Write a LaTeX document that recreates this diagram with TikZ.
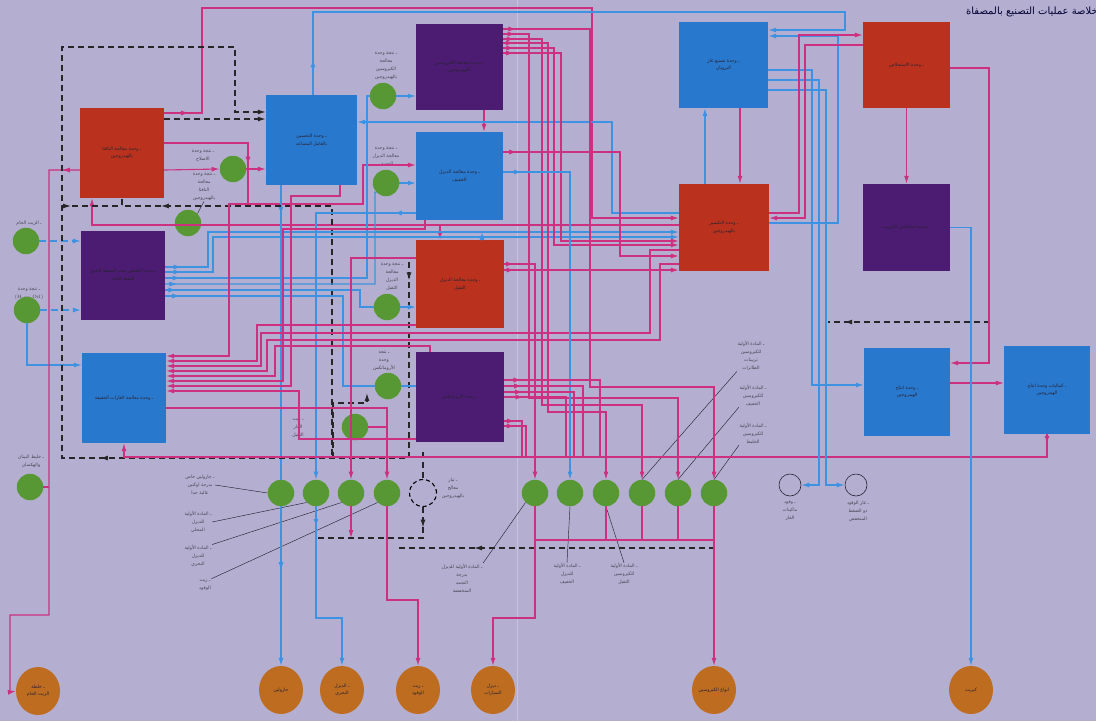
\documentclass[tikz,border=0pt]{standalone}
\usepackage{fontspec}
\usetikzlibrary{arrows.meta,shapes.geometric,decorations.markings}
\newfontfamily\arfont[Script=Arabic]{DejaVu Sans}
\TeXXeTstate=1
\newcommand\AR[1]{{\arfont\beginR #1\endR}}
\definecolor{bgc}{RGB}{180,175,208}
\definecolor{redc}{RGB}{186,50,30}
\definecolor{bluec}{RGB}{40,120,205}
\definecolor{purc}{RGB}{76,28,114}
\definecolor{grnc}{RGB}{88,152,52}
\definecolor{orc}{RGB}{190,108,32}
\definecolor{magc}{RGB}{206,48,128}
\definecolor{linb}{RGB}{62,146,226}
\definecolor{txtc}{RGB}{40,35,50}
\tikzset{
 box/.style={minimum width=87pt,minimum height=88pt,inner sep=1pt,align=center,font=\fontsize{4.6}{7.5}\selectfont,text=txtc},
 rbox/.style={box,fill=redc},
 bbox/.style={box,fill=bluec},
 pbox/.style={box,fill=purc},
 gc/.style={circle,fill=grnc,minimum size=26.5pt,inner sep=0pt},
 wc/.style={circle,draw=txtc,line width=0.6pt,minimum size=22pt,inner sep=0pt},
 dcirc/.style={circle,draw=black,line width=1.1pt,dash pattern=on 4pt off 3pt,minimum size=27pt,inner sep=0pt},
 oel/.style={ellipse,fill=orc,minimum width=44pt,minimum height=48pt,inner sep=0pt,align=center,font=\fontsize{4.6}{7}\selectfont,text=txtc},
 lab/.style={align=center,font=\fontsize{4.6}{8}\selectfont,text=txtc!85,inner sep=0.5pt},
 mg/.style={draw=magc,line width=1.1pt},
 bl/.style={draw=linb,line width=1.1pt},
 bld/.style={bl,dash pattern=on 7pt off 4pt},
 dsh/.style={draw=black!85,line width=1.2pt,dash pattern=on 6pt off 4pt},
 lead/.style={draw=txtc,line width=0.45pt},
 tip/.style={-{Latex[length=8pt,width=5pt]}},
 ma/.style={postaction={decorate,decoration={markings,mark=at position #1 with {\arrow{Latex[length=8pt,width=5pt]}}}}},
}
\begin{document}
\begin{tikzpicture}[x=1pt,y=-1pt]
\fill[bgc] (0,0) rectangle (1096,721);
\useasboundingbox (0,0) rectangle (1096,721);
\draw[white!25!bgc,line width=0.7pt] (517,0) -- (517,721);

% ---------- boxes
\node[rbox,minimum width=84pt,minimum height=90pt] (NHT) at (122,153) {\AR{ـ وحدة معالجة النافثا}\\\AR{بالهيدروجين}};
\node[bbox,minimum width=91pt,minimum height=90pt] (PLAT) at (311.5,140) {\AR{ـ وحدة التحسين}\\\AR{بالعامل المساعد}};
\node[pbox,minimum height=86pt] (KHT) at (459.5,67) {\AR{ـ وحدة معالجة الكيروسين}\\\AR{بالهيدروجين}};
\node[bbox] (LDHT) at (459.5,176) {\AR{ـ وحدة معالجة الديزل}\\\AR{الخفيف}};
\node[rbox,minimum width=88pt] (HDHT) at (460,284) {\AR{ـ وحدة معالجة الديزل}\\\AR{الثقيل}};
\node[pbox,minimum width=88pt,minimum height=90pt] (ARO) at (460,397) {\AR{ـ وحدة الأروماتكس}};
\node[pbox,minimum width=84pt,minimum height=89pt] (CDU) at (123,275.5) {\AR{ـ وحدة التقطير تحت الضغط الجوي}\\\AR{للنفط الخام}};
\node[bbox,minimum width=84pt,minimum height=90pt] (GAS) at (124,398) {\AR{ـ وحدة معالجة الغازات الخفيفة}};
\node[bbox,minimum width=89pt,minimum height=86pt] (LPG) at (723.5,65) {\AR{ـ وحدة تصنيع غاز}\\\AR{البروبان}};
\node[rbox,minimum width=90pt,minimum height=87pt] (HC) at (724,227.5) {\AR{ـ وحدة التكسير}\\\AR{بالهيدروجين}};
\node[rbox,minimum height=86pt] (EXT) at (906.5,65) {\AR{ـ وحدة الاستخلاص}};
\node[pbox,minimum height=87pt] (SUL) at (906.5,227.5) {\AR{ـ وحدة استخلاص الكبريت}};
\node[bbox,minimum width=86pt] (H2) at (907,392) {\AR{ـ وحدة انتاج}\\\AR{الهيدروجين}};
\node[bbox,minimum width=86pt] (H2X) at (1047,390) {\AR{ـ كماليات وحدة انتاج}\\\AR{الهيدروجين}};

% ---------- green circles
\node[gc] (g1) at (233,169) {};
\node[gc] (g2) at (188,223) {};
\node[gc] (g3) at (383,96) {};
\node[gc] (g4) at (386,183) {};
\node[gc] (g5) at (387,307) {};
\node[gc] (g6) at (388,386) {};
\node[gc] (g7) at (355,427) {};
\node[gc] (g8) at (26,241) {};
\node[gc] (g9) at (27,310) {};
\node[gc] (g10) at (30,487) {};
\node[gc] (b1) at (281,493) {};
\node[gc] (b2) at (316,493) {};
\node[gc] (b3) at (351,493) {};
\node[gc] (b4) at (387,493) {};
\node[dcirc] (dc) at (423,493) {};
\node[gc] (b5) at (535,493) {};
\node[gc] (b6) at (570,493) {};
\node[gc] (b7) at (606,493) {};
\node[gc] (b8) at (642,493) {};
\node[gc] (b9) at (678,493) {};
\node[gc] (b10) at (714,493) {};
\node[wc] (c1) at (790,485) {};
\node[wc] (c2) at (856,485) {};

% ---------- orange product ellipses
\node[oel] (e1) at (38,691) {\AR{ـ خلطة}\\\AR{الزيت الخام}};
\node[oel] (e2) at (281,690) {\AR{جازولين}};
\node[oel] (e3) at (342,690) {\AR{ـ الديزل}\\\AR{البحري}};
\node[oel] (e4) at (418,690) {\AR{ـ زيت}\\\AR{الوقود}};
\node[oel] (e5) at (493,690) {\AR{ـ ديزل}\\\AR{السيارات}};
\node[oel] (e6) at (714,690) {\AR{انواع الكيروسين}};
\node[oel] (e7) at (971,690) {\AR{كبريت}};

% ---------- title
\node[font=\fontsize{10}{12}\selectfont,text=black!80!blue] (title) at (1032,12) {\AR{خلاصة عمليات التصنيع بالمصفاة}};

% ---------- labels
\node[lab] (lg1) at (203,156) {\AR{ـ نتجة وحدة}\\\AR{الاصلاح}};
\node[lab] (lg2) at (204,187) {\AR{ـ نتجة وحدة}\\\AR{معالجة}\\\AR{النافثا}\\\AR{بالهيدروجين}};
\node[lab] (lg3) at (386,66) {\AR{ـ نتجة وحدة}\\\AR{معالجة}\\\AR{الكيروسين}\\\AR{بالهيدروجين}};
\node[lab] (lg4) at (386,157) {\AR{ـ نتجة وحدة}\\\AR{معالجة الديزل}\\\AR{الخفيف}};
\node[lab] (lg5) at (392,277) {\AR{ـ نتجة وحدة}\\\AR{معالجة}\\\AR{الديزل}\\\AR{الثقيل}};
\node[lab] (lg6) at (384,361) {\AR{ـ نتجة}\\\AR{وحدة}\\\AR{الأروماتكس}};
\node[lab] (lg7) at (298,428) {\AR{ـ زيت}\\\AR{الغاز}\\\AR{الثقيل}};
\node[lab] (lg8) at (29,223) {\AR{ـ الزيت الخام}};
\node[lab] (lg9) at (29,294) {\AR{ـ نتجة وحدة}\\(H --- Oil)};
\node[lab] (lg10) at (31,461) {\AR{ـ خليط البيتان}\\\AR{والهكسان}};
\node[lab] (lA) at (200,485) {\AR{ـ جازولين خاص}\\\AR{بدرجة اوكتين}\\\AR{عالية جدا}};
\node[lab] (lB) at (198,522) {\AR{ـ المادة الأولية}\\\AR{للديزل}\\\AR{المحلي}};
\node[lab] (lC) at (198,556) {\AR{ـ المادة الأولية}\\\AR{للديزل}\\\AR{البحري}};
\node[lab] (lD) at (205,585) {\AR{ـ زيت}\\\AR{الوقود}};
\node[lab] (ldc) at (453,488) {\AR{ـ تيار}\\\AR{معالج}\\\AR{بالهيدروجين}};
\node[lab] (lE) at (462,578) {\AR{ـ المادة الأولية للديزل}\\\AR{بدرجة}\\\AR{التجمد}\\\AR{المنخفضة}};
\node[lab] (lF) at (567,574) {\AR{ـ المادة الأولية}\\\AR{للديزل}\\\AR{الخفيف}};
\node[lab] (lG) at (624,574) {\AR{ـ المادة الأولية}\\\AR{للكيروسين}\\\AR{الثقيل}};
\node[lab] (lH) at (751,356) {\AR{ـ المادة الأولية}\\\AR{للكيروسين}\\\AR{تربينات}\\\AR{الطائرات}};
\node[lab] (lI) at (753,396) {\AR{ـ المادة الأولية}\\\AR{للكيروسين}\\\AR{الخفيف}};
\node[lab] (lJ) at (753,434) {\AR{ـ المادة الأولية}\\\AR{للكيروسين}\\\AR{الخليط}};
\node[lab] (lc1) at (790,511) {\AR{ـ وقود}\\\AR{ماكينات}\\\AR{الغاز}};
\node[lab] (lc2) at (858,511) {\AR{ـ غاز الوقود}\\\AR{ذو الضغط}\\\AR{المنخفض}};

% leaders
\draw[lead] (lg2.south) -- (g2.north east);
\draw[lead] (lA.east) -- (b1.west);
\draw[lead] (lB.east) -- (b2.south west);
\draw[lead] (lC.north east) -- (b3.south west);
\draw[lead] (lD.north east) -- (b4.south west);
\draw[lead] (lE.north east) -- (b5.south west);
\draw[lead] (lF.north) -- (b6.south);
\draw[lead] (lG.north) -- (b7.south);
\draw[lead] (lH.south west) -- (b8.north);
\draw[lead] (lI.south west) -- (b9.north);
\draw[lead] (lJ.south west) -- (b10.north);

% ---------- left side
\draw[bld,tip] (g8.east) -- (g8.east -| CDU.west);
\draw[bld,tip] (g9.east) -- (g9.east -| CDU.west);
\draw[bl,tip] (g9.south) -- (27,365) -- (GAS.west |- 0,365);
\draw[mg,tip,ma=0.03] (NHT.west |- 0,170) -- (49,170) -- (49,615) -- (10,615) -- (10,692) -- (e1.west);
\draw[mg] (g10.east) -- (49,487);

% ---------- NHT / PLAT
\draw[mg,tip,ma=0.03] (NHT.east |- 0,113) -- (202,113) -- (202,8) -- (592,8) -- (592,218) -- (HC.west |- 0,218);
\draw[mg,tip,ma=0.3] (NHT.east |- 0,143) -- (248,143) -- (248,204) -- (363,204) -- (363,165) -- (LDHT.west |- 0,165);
\draw[mg,tip] (NHT.east |- 0,170) -- (g1.west);
\draw[mg,tip] (g1.east) -- (g1.east -| PLAT.west);
\draw[mg,tip] (HC.west |- 0,225) -- (92,225) -- (NHT.south -| 92,0);
\draw[mg,tip] (440,225) -- (HDHT.north -| 440,0);
\draw[mg,tip] (KHT.south -| 484,0) -- (LDHT.north -| 484,0);
\draw[bl,tip] (HDHT.north -| 482,0) -- (482,232);
\draw[bl,tip,ma=0.05] (PLAT.north -| 313,0) -- (313,12) -- (845,12) -- (845,30) -- (LPG.east |- 0,30);
\draw[bl,ma=0.1] (PLAT.south -| 281,0) -- (b1.north);
\draw[bl,tip,ma=0.4] (b1.south) -- (e2.north);

% ---------- hydrogen (dashed) network
\draw[dsh,tip] (NHT.east |- 0,119) -- (PLAT.west |- 0,119);
\draw[dsh,tip,ma=0.015,ma=0.413] (409,262) -- (409,458) -- (62,458) -- (62,47) -- (235,47) -- (235,112) -- (PLAT.west |- 0,112);
\draw[dsh,ma=0.9] (332,455) -- (332,206) -- (NHT.south |- 0,206) -- (NHT.south);
\draw[dsh,ma=0.15] (62,206) -- (NHT.south |- 0,206);
\draw[dsh,ma=0.9] (990,322) -- (828,322);
\draw[dsh,ma=0.76] (715,548) -- (398,548);
\draw[dsh] (423,452) -- (dc.north);
\draw[dsh,ma=0.15] (dc.south) -- (423,538) -- (317,538);
\draw[dsh,tip] (333,458) -- (333,403) -- (367,403) -- (367,393);

% ---------- crude unit feeds (blue)
\draw[bl,tip,ma=0.03] (CDU.east |- 0,267) -- (208,267) -- (208,232) -- (HC.west |- 0,232);
\draw[bl,tip,ma=0.03] (CDU.east |- 0,272) -- (213,272) -- (213,237) -- (HC.west |- 0,237);
\draw[bl,ma=0.04] (CDU.east |- 0,278) -- (367,278) -- (367,96) -- (g3.west);
\draw[bl,tip] (g3.east) -- (g3.east -| KHT.west);
\draw[bl,ma=0.04] (CDU.east |- 0,284) -- (375,284) -- (375,192) -- (g4.south west);
\draw[bl,tip] (g4.east) -- (g4.east -| LDHT.west);
\draw[bl,ma=0.05] (CDU.east |- 0,290) -- (360,290) -- (360,307) -- (g5.west);
\draw[bl,tip] (g5.east) -- (g5.east -| HDHT.west);
\draw[bl,ma=0.05] (CDU.east |- 0,296) -- (343,296) -- (343,386) -- (g6.west);
\draw[bl] (g6.east) -- (g6.east -| ARO.west);

\draw[bl,tip,ma=0.06] (LDHT.west |- 0,213) -- (316,213) -- (b2.north);
\draw[bl,tip,ma=0.11] (b2.south) -- (316,618) -- (342,618) -- (e3.north);
\draw[bl,tip] (HC.west |- 0,213) -- (612,213) -- (612,122) -- (PLAT.east |- 0,122);

% ---------- heavy diesel / fuel oil
\draw[mg,tip] (HDHT.west |- 0,258) -- (351,258) -- (b3.north);
\draw[mg,tip] (b3.south) -- (351,538);
\draw[mg] (g7.east) -- (387,427);
\draw[mg,tip] (GAS.east |- 0,408) -- (387,408) -- (b4.north);
\draw[mg,tip] (b4.south) -- (387,600) -- (418,600) -- (e4.north);

% ---------- light gas collection (into GAS)
\draw[mg,tip] (248,204) -- (229,204) -- (229,356) -- (GAS.east |- 0,356);
\draw[mg,tip] (HDHT.west |- 0,325) -- (257,325) -- (257,361) -- (GAS.east |- 0,361);
\draw[mg,tip] (HC.west |- 0,250) -- (650,250) -- (650,333) -- (261,333) -- (261,366) -- (GAS.east |- 0,366);
\draw[mg,tip] (HC.west |- 0,264) -- (660,264) -- (660,340) -- (267,340) -- (267,371) -- (GAS.east |- 0,371);
\draw[mg,tip] (ARO.north -| 430,0) -- (430,346) -- (275,346) -- (275,376) -- (GAS.east |- 0,376);
\draw[mg,tip] (LDHT.south -| 425,0) -- (425,229) -- (283,229) -- (283,381) -- (GAS.east |- 0,381);
\draw[mg,tip] (PLAT.south -| 340,0) -- (340,196) -- (291,196) -- (291,386) -- (GAS.east |- 0,386);
\draw[mg,tip] (ARO.west |- 0,439) -- (299,439) -- (299,391) -- (GAS.east |- 0,391);

% ---------- kerosene fan
\draw[mg,tip,ma=0.02] (KHT.east |- 0,29) -- (590,29) -- (590,387) -- (714,387) -- (b10.north);
\draw[mg,tip,ma=0.02] (KHT.east |- 0,34) -- (529,34) -- (529,398) -- (678,398) -- (b9.north);
\draw[mg,tip,ma=0.02] (KHT.east |- 0,39) -- (542,39) -- (542,405) -- (642,405) -- (b8.north);
\draw[mg,tip,ma=0.02] (KHT.east |- 0,43) -- (548,43) -- (548,412) -- (606,412) -- (b7.north);
\draw[mg,tip,ma=0.03] (KHT.east |- 0,48) -- (554,48) -- (554,245) -- (HC.west |- 0,245);
\draw[mg,tip,ma=0.03] (KHT.east |- 0,53) -- (561,53) -- (561,241) -- (HC.west |- 0,241);

% ---------- diesel outputs
\draw[bl,tip,ma=0.05] (LDHT.east |- 0,172) -- (570,172) -- (b6.north);
\draw[mg,tip,ma=0.05] (LDHT.east |- 0,152) -- (620,152) -- (620,256) -- (HC.west |- 0,256);
\draw[mg,tip,ma=0.04] (HDHT.east |- 0,264) -- (535,264) -- (b5.north);
\draw[mg,tip] (b5.south) -- (535,618) -- (493,618) -- (e5.north);
\draw[mg,tip,ma=0.06] (HDHT.east |- 0,270) -- (HC.west |- 0,270);
\draw[mg] (b7.south) -- (606,540);
\draw[mg] (b8.south) -- (642,540);
\draw[mg] (b9.south) -- (678,540);
\draw[mg,tip] (b10.south) -- (714,540) -- (e6.north);
\draw[mg] (535,540) -- (714,540);

% ---------- aromatics outputs
\draw[mg,ma=0.1] (ARO.east |- 0,380) -- (600,380) -- (600,457);
\draw[mg,ma=0.12] (ARO.east |- 0,386) -- (583,386) -- (583,457);
\draw[mg,ma=0.14] (ARO.east |- 0,392) -- (574,392) -- (574,457);
\draw[mg,ma=0.16] (ARO.east |- 0,397) -- (566,397) -- (566,457);
\draw[mg,ma=0.2] (ARO.east |- 0,421) -- (522,421) -- (522,457);
\draw[mg,ma=0.2] (ARO.east |- 0,426) -- (526,426) -- (526,457);

% ---------- right side
\draw[mg,tip] (LPG.south -| 740,0) -- (HC.north -| 740,0);
\draw[bl,tip] (HC.north -| 705,0) -- (LPG.south -| 705,0);
\draw[mg,tip] (EXT.south) -- (SUL.north);
\draw[mg,tip] (EXT.east |- 0,68) -- (989,68) -- (989,363) -- (H2.east |- 0,363);
\draw[mg,tip] (H2.east |- 0,383) -- (H2X.west |- 0,383);
\draw[mg,tip,ma=0.01] (H2X.south) -- (1047,457) -- (124,457) -- (GAS.south -| 124,0);
\draw[bl,tip] (SUL.east) -- (971,227.5) -- (e7.north);
\draw[bl,tip] (LPG.east |- 0,70) -- (812,70) -- (812,385) -- (H2.west |- 0,385);
\draw[bl,tip] (LPG.east |- 0,80) -- (819,80) -- (819,485) -- (c1.east);
\draw[bl,tip] (LPG.east |- 0,90) -- (826,90) -- (826,485) -- (c2.west);
\draw[bl,tip] (HC.east |- 0,223) -- (838,223) -- (838,36) -- (LPG.east |- 0,36);
\draw[mg,tip] (HC.east |- 0,213) -- (799,213) -- (799,35) -- (EXT.west |- 0,35);
\draw[mg,tip] (EXT.west |- 0,45) -- (805,45) -- (805,218) -- (HC.east |- 0,218);
\end{tikzpicture}
\end{document}
